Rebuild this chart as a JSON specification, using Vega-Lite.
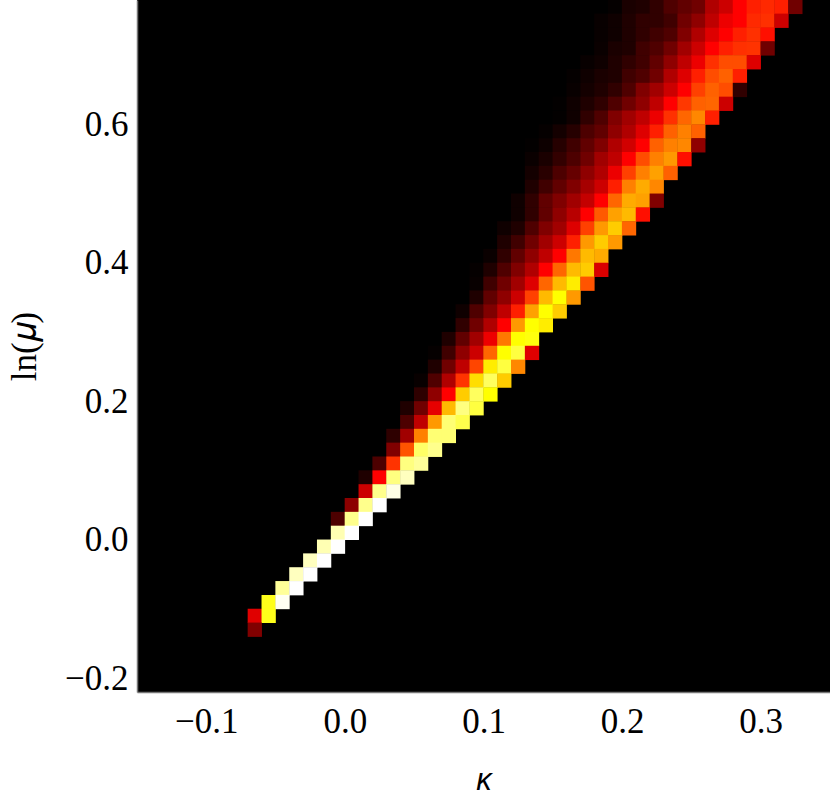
{"$schema":"https://vega.github.io/schema/vega-lite/v6.json","width":693,"height":692,"autosize":"none","padding":{"left":137,"top":0,"right":0,"bottom":106},"background":"white","config":{"view":{"fill":"#000000","stroke":null}},
"data":{"values":[
{"k":0.195,"m":0.77,"z":0.02},{"k":0.205,"m":0.77,"z":0.1},{"k":0.215,"m":0.77,"z":0.12},{"k":0.225,"m":0.77,"z":0.19},{"k":0.235,"m":0.77,"z":0.31},{"k":0.245,"m":0.77,"z":0.38},{"k":0.255,"m":0.77,"z":0.44},{"k":0.265,"m":0.77,"z":0.69},{"k":0.275,"m":0.77,"z":0.8},{"k":0.285,"m":0.77,"z":1},{"k":0.295,"m":0.77,"z":1.12},{"k":0.305,"m":0.77,"z":1.16},{"k":0.315,"m":0.77,"z":1.12},{"k":0.325,"m":0.77,"z":0.44},
{"k":0.185,"m":0.75,"z":0.03},{"k":0.195,"m":0.75,"z":0.06},{"k":0.205,"m":0.75,"z":0.12},{"k":0.215,"m":0.75,"z":0.19},{"k":0.225,"m":0.75,"z":0.19},{"k":0.235,"m":0.75,"z":0.25},{"k":0.245,"m":0.75,"z":0.44},{"k":0.255,"m":0.75,"z":0.56},{"k":0.265,"m":0.75,"z":0.75},{"k":0.275,"m":0.75,"z":0.93},{"k":0.285,"m":0.75,"z":1},{"k":0.295,"m":0.75,"z":1.16},{"k":0.305,"m":0.75,"z":1.19},{"k":0.315,"m":0.75,"z":0.8},
{"k":0.185,"m":0.73,"z":0.03},{"k":0.195,"m":0.73,"z":0.06},{"k":0.205,"m":0.73,"z":0.12},{"k":0.215,"m":0.73,"z":0.19},{"k":0.225,"m":0.73,"z":0.25},{"k":0.235,"m":0.73,"z":0.31},{"k":0.245,"m":0.73,"z":0.5},{"k":0.255,"m":0.73,"z":0.69},{"k":0.265,"m":0.73,"z":0.87},{"k":0.275,"m":0.73,"z":1},{"k":0.285,"m":0.73,"z":1.12},{"k":0.295,"m":0.73,"z":1.19},{"k":0.305,"m":0.73,"z":1.06},
{"k":0.185,"m":0.71,"z":0.04},{"k":0.195,"m":0.71,"z":0.1},{"k":0.205,"m":0.71,"z":0.12},{"k":0.215,"m":0.71,"z":0.25},{"k":0.225,"m":0.71,"z":0.31},{"k":0.235,"m":0.71,"z":0.44},{"k":0.245,"m":0.71,"z":0.63},{"k":0.255,"m":0.71,"z":0.8},{"k":0.265,"m":0.71,"z":1},{"k":0.275,"m":0.71,"z":1.12},{"k":0.285,"m":0.71,"z":1.19},{"k":0.295,"m":0.71,"z":1.2},{"k":0.305,"m":0.71,"z":0.44},
{"k":0.175,"m":0.69,"z":0.03},{"k":0.185,"m":0.69,"z":0.06},{"k":0.195,"m":0.69,"z":0.12},{"k":0.205,"m":0.69,"z":0.19},{"k":0.215,"m":0.69,"z":0.25},{"k":0.225,"m":0.69,"z":0.38},{"k":0.235,"m":0.69,"z":0.56},{"k":0.245,"m":0.69,"z":0.75},{"k":0.255,"m":0.69,"z":0.93},{"k":0.265,"m":0.69,"z":1.19},{"k":0.275,"m":0.69,"z":1.3},{"k":0.285,"m":0.69,"z":1.3},{"k":0.295,"m":0.69,"z":0.87},
{"k":0.165,"m":0.67,"z":0.02},{"k":0.175,"m":0.67,"z":0.06},{"k":0.185,"m":0.67,"z":0.1},{"k":0.195,"m":0.67,"z":0.12},{"k":0.205,"m":0.67,"z":0.25},{"k":0.215,"m":0.67,"z":0.31},{"k":0.225,"m":0.67,"z":0.44},{"k":0.235,"m":0.67,"z":0.69},{"k":0.245,"m":0.67,"z":0.87},{"k":0.255,"m":0.67,"z":1.12},{"k":0.265,"m":0.67,"z":1.3},{"k":0.275,"m":0.67,"z":1.38},{"k":0.285,"m":0.67,"z":1.12},
{"k":0.165,"m":0.65,"z":0.03},{"k":0.175,"m":0.65,"z":0.08},{"k":0.185,"m":0.65,"z":0.12},{"k":0.195,"m":0.65,"z":0.19},{"k":0.205,"m":0.65,"z":0.31},{"k":0.215,"m":0.65,"z":0.5},{"k":0.225,"m":0.65,"z":0.63},{"k":0.235,"m":0.65,"z":0.8},{"k":0.245,"m":0.65,"z":1},{"k":0.255,"m":0.65,"z":1.25},{"k":0.265,"m":0.65,"z":1.38},{"k":0.275,"m":0.65,"z":1.3},{"k":0.285,"m":0.65,"z":0.19},
{"k":0.155,"m":0.63,"z":0.01},{"k":0.165,"m":0.63,"z":0.06},{"k":0.175,"m":0.63,"z":0.12},{"k":0.185,"m":0.63,"z":0.19},{"k":0.195,"m":0.63,"z":0.31},{"k":0.205,"m":0.63,"z":0.44},{"k":0.215,"m":0.63,"z":0.56},{"k":0.225,"m":0.63,"z":0.75},{"k":0.235,"m":0.63,"z":1},{"k":0.245,"m":0.63,"z":1.22},{"k":0.255,"m":0.63,"z":1.38},{"k":0.265,"m":0.63,"z":1.4},{"k":0.275,"m":0.63,"z":0.8},
{"k":0.155,"m":0.61,"z":0.01},{"k":0.165,"m":0.61,"z":0.06},{"k":0.175,"m":0.61,"z":0.19},{"k":0.185,"m":0.61,"z":0.31},{"k":0.195,"m":0.61,"z":0.5},{"k":0.205,"m":0.61,"z":0.63},{"k":0.215,"m":0.61,"z":0.75},{"k":0.225,"m":0.61,"z":0.93},{"k":0.235,"m":0.61,"z":1.19},{"k":0.245,"m":0.61,"z":1.4},{"k":0.255,"m":0.61,"z":1.53},{"k":0.265,"m":0.61,"z":1.12},
{"k":0.145,"m":0.59,"z":0.02},{"k":0.155,"m":0.59,"z":0.08},{"k":0.165,"m":0.59,"z":0.15},{"k":0.175,"m":0.59,"z":0.3},{"k":0.185,"m":0.59,"z":0.38},{"k":0.195,"m":0.59,"z":0.56},{"k":0.205,"m":0.59,"z":0.69},{"k":0.215,"m":0.59,"z":0.87},{"k":0.225,"m":0.59,"z":1.12},{"k":0.235,"m":0.59,"z":1.38},{"k":0.245,"m":0.59,"z":1.5},{"k":0.255,"m":0.59,"z":1.38},
{"k":0.135,"m":0.57,"z":0.01},{"k":0.145,"m":0.57,"z":0.05},{"k":0.155,"m":0.57,"z":0.15},{"k":0.165,"m":0.57,"z":0.25},{"k":0.175,"m":0.57,"z":0.38},{"k":0.185,"m":0.57,"z":0.5},{"k":0.195,"m":0.57,"z":0.69},{"k":0.205,"m":0.57,"z":0.82},{"k":0.215,"m":0.57,"z":1},{"k":0.225,"m":0.57,"z":1.38},{"k":0.235,"m":0.57,"z":1.5},{"k":0.245,"m":0.57,"z":1.53},{"k":0.255,"m":0.57,"z":0.56},
{"k":0.135,"m":0.55,"z":0.04},{"k":0.145,"m":0.55,"z":0.1},{"k":0.155,"m":0.55,"z":0.2},{"k":0.165,"m":0.55,"z":0.3},{"k":0.175,"m":0.55,"z":0.44},{"k":0.185,"m":0.55,"z":0.63},{"k":0.195,"m":0.55,"z":0.75},{"k":0.205,"m":0.55,"z":1},{"k":0.215,"m":0.55,"z":1.3},{"k":0.225,"m":0.55,"z":1.5},{"k":0.235,"m":0.55,"z":1.6},{"k":0.245,"m":0.55,"z":1.06},
{"k":0.135,"m":0.53,"z":0.08},{"k":0.145,"m":0.53,"z":0.16},{"k":0.155,"m":0.53,"z":0.3},{"k":0.165,"m":0.53,"z":0.4},{"k":0.175,"m":0.53,"z":0.56},{"k":0.185,"m":0.53,"z":0.69},{"k":0.195,"m":0.53,"z":0.93},{"k":0.205,"m":0.53,"z":1.25},{"k":0.215,"m":0.53,"z":1.5},{"k":0.225,"m":0.53,"z":1.63},{"k":0.235,"m":0.53,"z":1.38},
{"k":0.135,"m":0.51,"z":0.12},{"k":0.145,"m":0.51,"z":0.25},{"k":0.155,"m":0.51,"z":0.38},{"k":0.165,"m":0.51,"z":0.5},{"k":0.175,"m":0.51,"z":0.65},{"k":0.185,"m":0.51,"z":0.8},{"k":0.195,"m":0.51,"z":1.12},{"k":0.205,"m":0.51,"z":1.5},{"k":0.215,"m":0.51,"z":1.67},{"k":0.225,"m":0.51,"z":1.53},
{"k":0.125,"m":0.49,"z":0.06},{"k":0.135,"m":0.49,"z":0.19},{"k":0.145,"m":0.49,"z":0.38},{"k":0.155,"m":0.49,"z":0.5},{"k":0.165,"m":0.49,"z":0.63},{"k":0.175,"m":0.49,"z":0.77},{"k":0.185,"m":0.49,"z":1},{"k":0.195,"m":0.49,"z":1.4},{"k":0.205,"m":0.49,"z":1.67},{"k":0.215,"m":0.49,"z":1.63},{"k":0.225,"m":0.49,"z":0.5},
{"k":0.125,"m":0.47,"z":0.06},{"k":0.135,"m":0.47,"z":0.19},{"k":0.145,"m":0.47,"z":0.38},{"k":0.155,"m":0.47,"z":0.56},{"k":0.165,"m":0.47,"z":0.72},{"k":0.175,"m":0.47,"z":1},{"k":0.185,"m":0.47,"z":1.35},{"k":0.195,"m":0.47,"z":1.63},{"k":0.205,"m":0.47,"z":1.73},{"k":0.215,"m":0.47,"z":1.06},
{"k":0.115,"m":0.45,"z":0.06},{"k":0.125,"m":0.45,"z":0.12},{"k":0.135,"m":0.45,"z":0.31},{"k":0.145,"m":0.45,"z":0.5},{"k":0.155,"m":0.45,"z":0.63},{"k":0.165,"m":0.45,"z":0.87},{"k":0.175,"m":0.45,"z":1.25},{"k":0.185,"m":0.45,"z":1.6},{"k":0.195,"m":0.45,"z":1.8},{"k":0.205,"m":0.45,"z":1.4},
{"k":0.115,"m":0.43,"z":0.12},{"k":0.125,"m":0.43,"z":0.25},{"k":0.135,"m":0.43,"z":0.44},{"k":0.145,"m":0.43,"z":0.63},{"k":0.155,"m":0.43,"z":0.8},{"k":0.165,"m":0.43,"z":1.12},{"k":0.175,"m":0.43,"z":1.6},{"k":0.185,"m":0.43,"z":1.8},{"k":0.195,"m":0.43,"z":1.6},
{"k":0.105,"m":0.41,"z":0.04},{"k":0.115,"m":0.41,"z":0.19},{"k":0.125,"m":0.41,"z":0.38},{"k":0.135,"m":0.41,"z":0.56},{"k":0.145,"m":0.41,"z":0.75},{"k":0.155,"m":0.41,"z":1},{"k":0.165,"m":0.41,"z":1.47},{"k":0.175,"m":0.41,"z":1.73},{"k":0.185,"m":0.41,"z":1.67},
{"k":0.095,"m":0.39,"z":0.02},{"k":0.105,"m":0.39,"z":0.12},{"k":0.115,"m":0.39,"z":0.31},{"k":0.125,"m":0.39,"z":0.5},{"k":0.135,"m":0.39,"z":0.69},{"k":0.145,"m":0.39,"z":1},{"k":0.155,"m":0.39,"z":1.4},{"k":0.165,"m":0.39,"z":1.73},{"k":0.175,"m":0.39,"z":1.8},{"k":0.185,"m":0.39,"z":0.85},
{"k":0.095,"m":0.37,"z":0.03},{"k":0.105,"m":0.37,"z":0.25},{"k":0.115,"m":0.37,"z":0.44},{"k":0.125,"m":0.37,"z":0.63},{"k":0.135,"m":0.37,"z":0.87},{"k":0.145,"m":0.37,"z":1.4},{"k":0.155,"m":0.37,"z":1.73},{"k":0.165,"m":0.37,"z":1.93},{"k":0.175,"m":0.37,"z":1.33},
{"k":0.095,"m":0.35,"z":0.12},{"k":0.105,"m":0.35,"z":0.38},{"k":0.115,"m":0.35,"z":0.56},{"k":0.125,"m":0.35,"z":0.8},{"k":0.135,"m":0.35,"z":1.25},{"k":0.145,"m":0.35,"z":1.73},{"k":0.155,"m":0.35,"z":2},{"k":0.165,"m":0.35,"z":1.6},
{"k":0.085,"m":0.33,"z":0.06},{"k":0.095,"m":0.33,"z":0.31},{"k":0.105,"m":0.33,"z":0.5},{"k":0.115,"m":0.33,"z":0.75},{"k":0.125,"m":0.33,"z":1.12},{"k":0.135,"m":0.33,"z":1.63},{"k":0.145,"m":0.33,"z":2},{"k":0.155,"m":0.33,"z":1.8},
{"k":0.085,"m":0.31,"z":0.19},{"k":0.095,"m":0.31,"z":0.44},{"k":0.105,"m":0.31,"z":0.69},{"k":0.115,"m":0.31,"z":1},{"k":0.125,"m":0.31,"z":1.6},{"k":0.135,"m":0.31,"z":2},{"k":0.145,"m":0.31,"z":1.93},
{"k":0.075,"m":0.29,"z":0.12},{"k":0.085,"m":0.29,"z":0.38},{"k":0.095,"m":0.29,"z":0.63},{"k":0.105,"m":0.29,"z":0.93},{"k":0.115,"m":0.29,"z":1.47},{"k":0.125,"m":0.29,"z":2},{"k":0.135,"m":0.29,"z":2.05},
{"k":0.065,"m":0.27,"z":0.02},{"k":0.075,"m":0.27,"z":0.25},{"k":0.085,"m":0.27,"z":0.56},{"k":0.095,"m":0.27,"z":0.8},{"k":0.105,"m":0.27,"z":1.4},{"k":0.115,"m":0.27,"z":2},{"k":0.125,"m":0.27,"z":2.25},{"k":0.135,"m":0.27,"z":0.88},
{"k":0.065,"m":0.25,"z":0.12},{"k":0.075,"m":0.25,"z":0.44},{"k":0.085,"m":0.25,"z":0.75},{"k":0.095,"m":0.25,"z":1.27},{"k":0.105,"m":0.25,"z":1.93},{"k":0.115,"m":0.25,"z":2.25},{"k":0.125,"m":0.25,"z":1.53},
{"k":0.055,"m":0.23,"z":0.03},{"k":0.065,"m":0.23,"z":0.31},{"k":0.075,"m":0.23,"z":0.69},{"k":0.085,"m":0.23,"z":1.2},{"k":0.095,"m":0.23,"z":1.87},{"k":0.105,"m":0.23,"z":2.37},{"k":0.115,"m":0.23,"z":1.8},
{"k":0.055,"m":0.21,"z":0.18},{"k":0.065,"m":0.21,"z":0.56},{"k":0.075,"m":0.21,"z":1},{"k":0.085,"m":0.21,"z":1.8},{"k":0.095,"m":0.21,"z":2.37},{"k":0.105,"m":0.21,"z":2},
{"k":0.045,"m":0.19,"z":0.12},{"k":0.055,"m":0.19,"z":0.44},{"k":0.065,"m":0.19,"z":0.9},{"k":0.075,"m":0.19,"z":1.73},{"k":0.085,"m":0.19,"z":2.5},{"k":0.095,"m":0.19,"z":2.25},
{"k":0.045,"m":0.17,"z":0.3},{"k":0.055,"m":0.17,"z":0.75},{"k":0.065,"m":0.17,"z":1.6},{"k":0.075,"m":0.17,"z":2.45},{"k":0.085,"m":0.17,"z":2.3},
{"k":0.035,"m":0.15,"z":0.18},{"k":0.045,"m":0.15,"z":0.63},{"k":0.055,"m":0.15,"z":1.5},{"k":0.065,"m":0.15,"z":2.45},{"k":0.075,"m":0.15,"z":2.45},
{"k":0.035,"m":0.13,"z":0.5},{"k":0.045,"m":0.13,"z":1.33},{"k":0.055,"m":0.13,"z":2.4},{"k":0.065,"m":0.13,"z":2.55},
{"k":0.025,"m":0.11,"z":0.3},{"k":0.035,"m":0.11,"z":1.2},{"k":0.045,"m":0.11,"z":2.5},{"k":0.055,"m":0.11,"z":2.6},
{"k":0.015,"m":0.09,"z":0.12},{"k":0.025,"m":0.09,"z":1},{"k":0.035,"m":0.09,"z":2.5},{"k":0.045,"m":0.09,"z":2.75},
{"k":0.015,"m":0.07,"z":0.8},{"k":0.025,"m":0.07,"z":2.55},{"k":0.035,"m":0.07,"z":2.9},
{"k":0.005,"m":0.05,"z":0.55},{"k":0.015,"m":0.05,"z":2.55},{"k":0.025,"m":0.05,"z":3},
{"k":-0.005,"m":0.03,"z":0.3},{"k":0.005,"m":0.03,"z":2.55},{"k":0.015,"m":0.03,"z":3},
{"k":-0.005,"m":0.01,"z":2.7},{"k":0.005,"m":0.01,"z":3},
{"k":-0.015,"m":-0.01,"z":2.7},{"k":-0.005,"m":-0.01,"z":3},
{"k":-0.025,"m":-0.03,"z":2.75},{"k":-0.015,"m":-0.03,"z":3},
{"k":-0.035,"m":-0.05,"z":2.75},{"k":-0.025,"m":-0.05,"z":3},
{"k":-0.045,"m":-0.07,"z":2.6},{"k":-0.035,"m":-0.07,"z":3},
{"k":-0.055,"m":-0.09,"z":2.1},{"k":-0.045,"m":-0.09,"z":2.95},
{"k":-0.065,"m":-0.11,"z":0.88},{"k":-0.055,"m":-0.11,"z":2.1},
{"k":-0.065,"m":-0.13,"z":0.5}
]},
"mark":{"type":"rect","width":14.3,"height":14.3},
"encoding":{
"x":{"field":"k","type":"quantitative","scale":{"domain":[-0.15,0.35],"nice":false,"zero":false},"axis":{"values":[-0.1,0,0.1,0.2,0.3],"format":".1f","grid":false,"ticks":false,"domainColor":"#777777","domainWidth":1.5,"labelFont":"Liberation Serif","labelFontSize":35,"labelColor":"#000000","labelPadding":12,"title":"κ","titleFont":"Liberation Sans","titleFontStyle":"italic","titleFontWeight":"normal","titleFontSize":31,"titleColor":"#000000","titlePadding":26}},
"y":{"field":"m","type":"quantitative","scale":{"domain":[-0.22,0.78],"nice":false,"zero":false},"axis":{"values":[-0.2,0,0.2,0.4,0.6],"format":".1f","grid":false,"ticks":false,"domainColor":"#777777","domainWidth":1.5,"labelFont":"Liberation Serif","labelFontSize":35,"labelColor":"#000000","labelPadding":9,"title":"ln(𝜇)","titleFont":"Liberation Serif","titleFontWeight":"normal","titleFontSize":35,"titleColor":"#000000","titlePadding":22}},
"color":{"field":"z","type":"quantitative","scale":{"domain":[0,1,2,3],"range":["#000000","#ff0000","#ffff00","#ffffff"],"interpolate":"rgb"},"legend":null}
}}
